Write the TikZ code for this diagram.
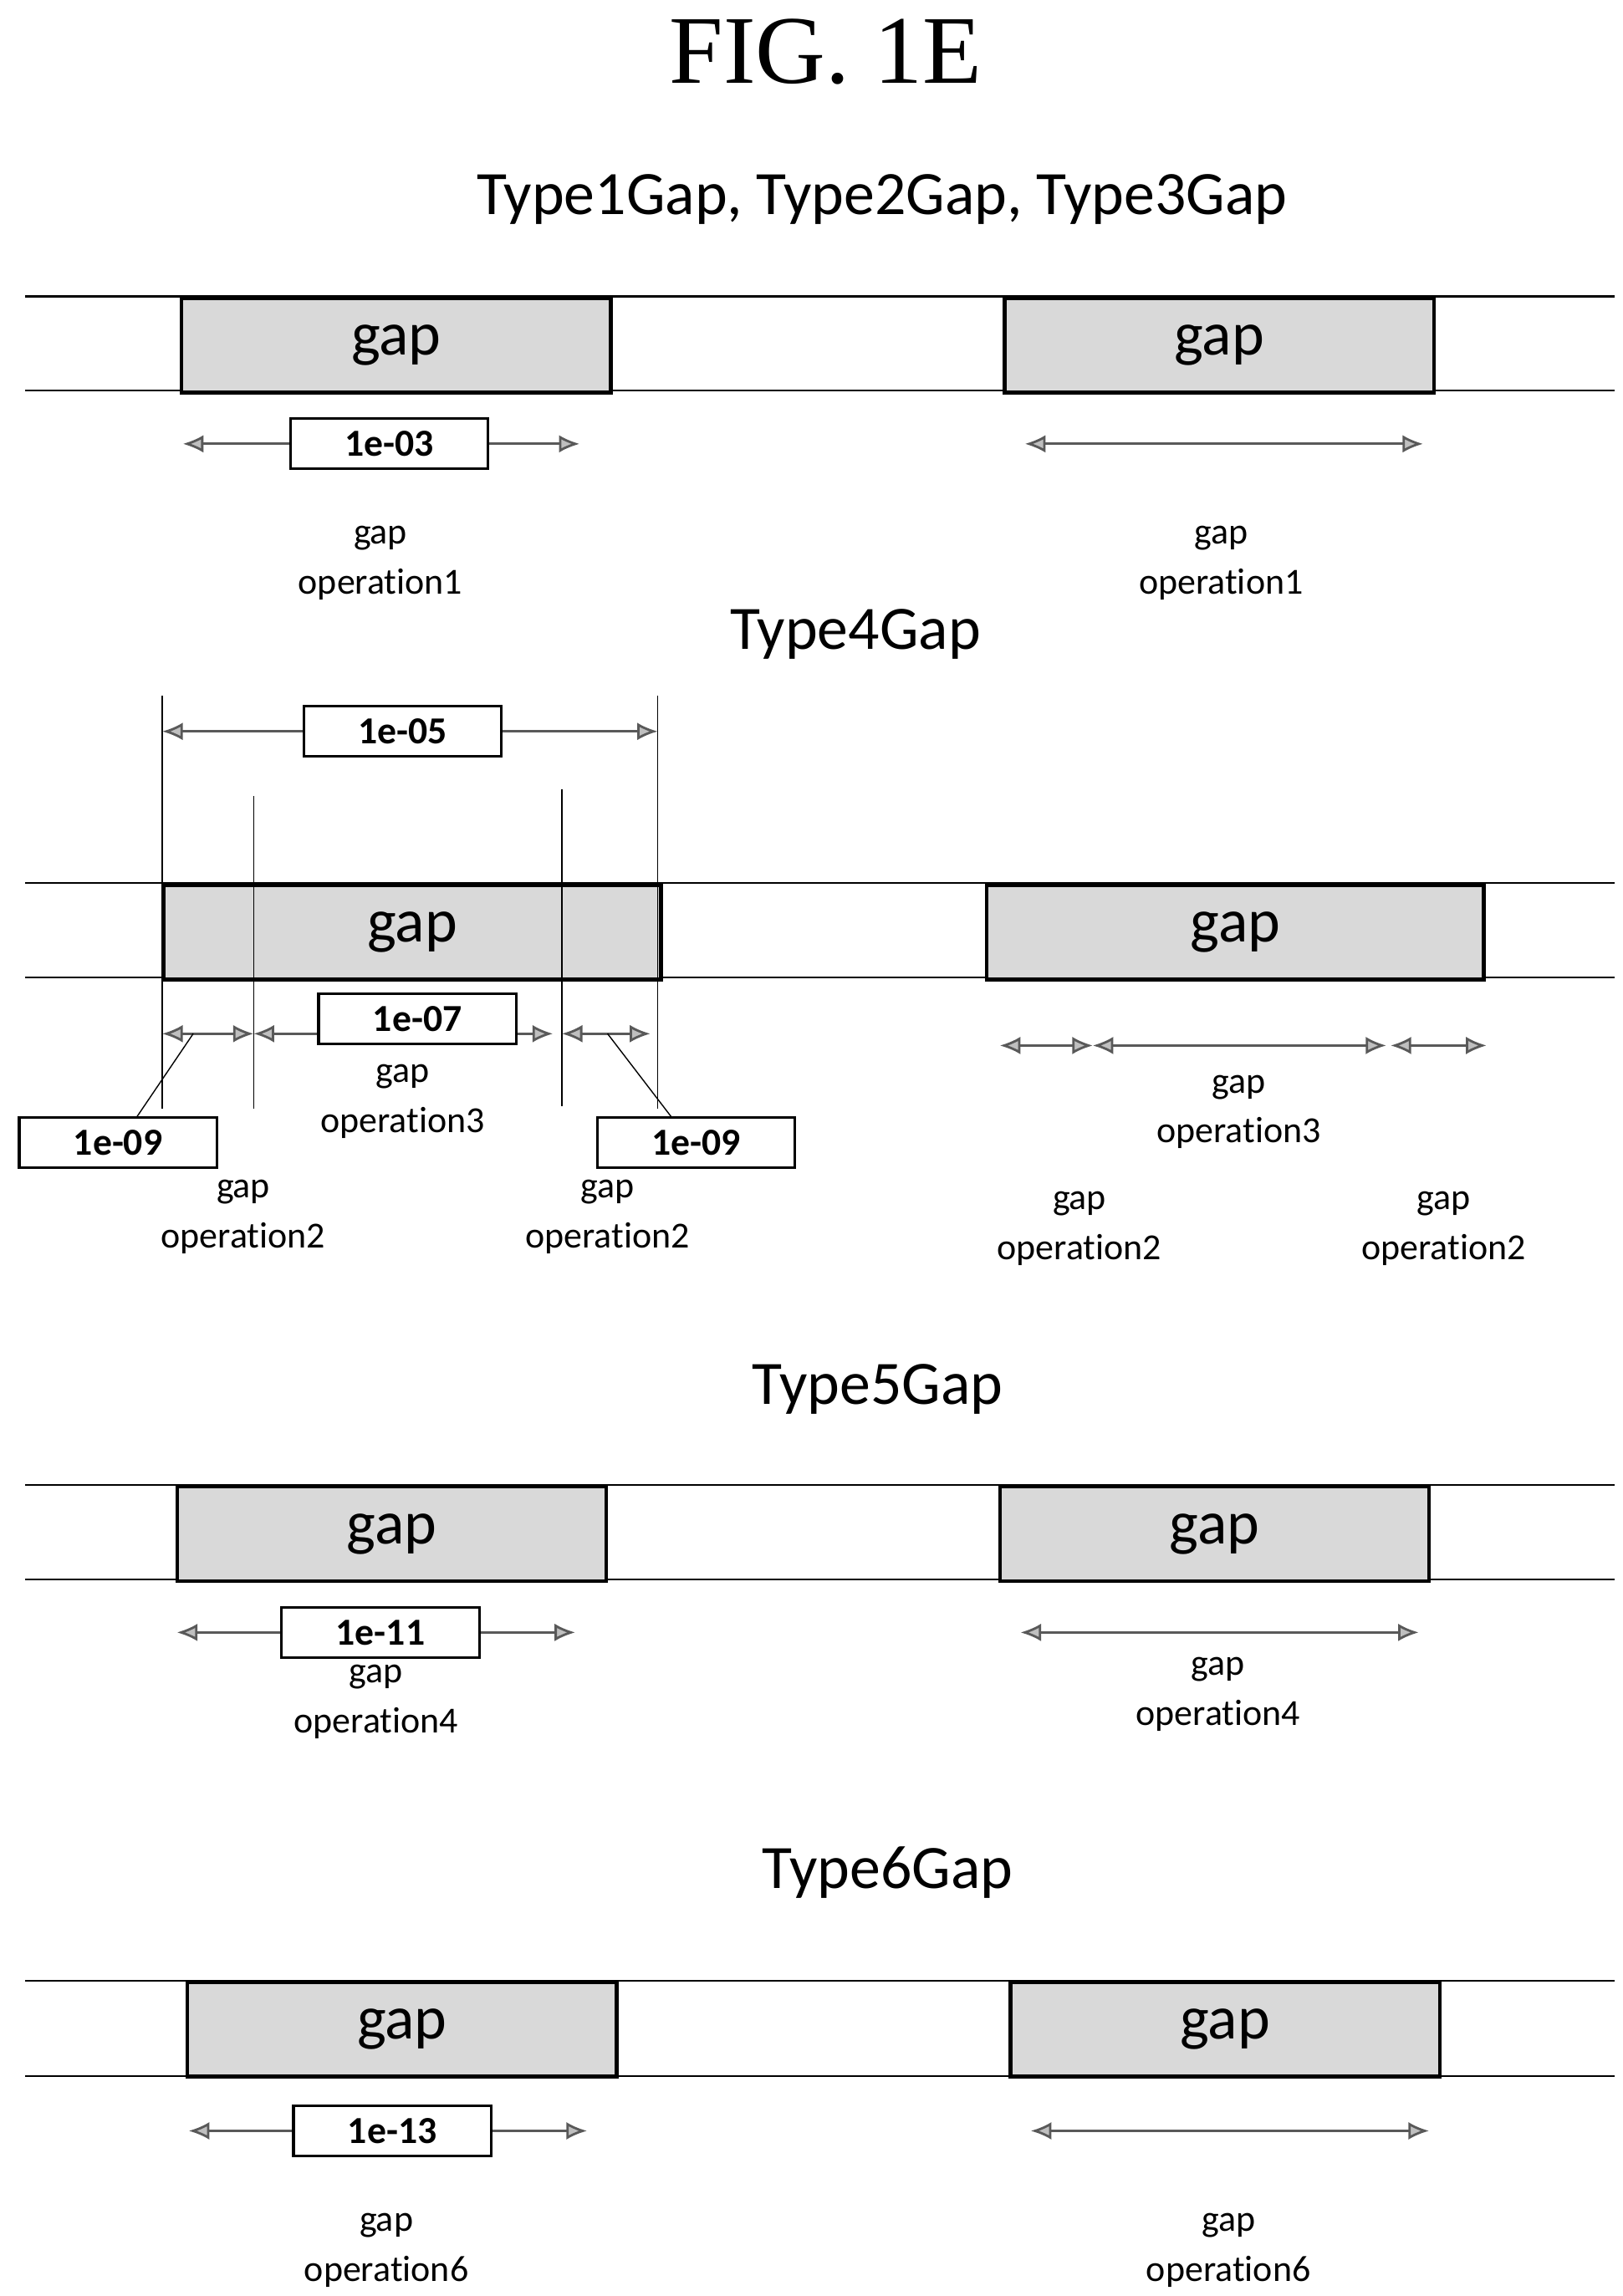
\documentclass[tikz,border=0pt]{standalone}
\usepackage{fontspec}
\setmainfont[RawFeature={-liga;-calt;-clig;-dlig}]{Carlito}
\newfontfamily\figfont{Liberation Serif}
\usetikzlibrary{arrows.meta}
\tikzset{
  gapbox/.style={draw,line width=1.2pt,fill=gray!30,minimum height=64\unitpx,anchor=north west,inner sep=0pt},
  tag/.style={draw,line width=0.9pt,fill=white,minimum width=134\unitpx,minimum height=34\unitpx,inner sep=0pt,font=\fontsize{13}{14}\selectfont\bfseries},
  span/.style={gray!70!black,line width=0.8pt,{Latex[length=7pt,width=6pt,fill=gray!50]}-{Latex[length=7pt,width=6pt,fill=gray!50]}},
  guide/.style={line width=0.4pt},
  op/.style={align=center,font=\fontsize{12.5}{17}\selectfont},
  head/.style={font=\fontsize{21}{22}\selectfont},
  gaptxt/.style={font=\fontsize{21}{22}\selectfont}
}
\newlength\unitpx
\setlength\unitpx{0.017636cm}
\newcommand\gaprow[6]{% top y, bottom y, left box x, right box x, width, name
  \draw[line width=0.6pt] (17,#1) -- (1095,#1) (17,#2) -- (1095,#2);
  \node[gapbox,minimum width=#5\unitpx,gaptxt] (#6l) at (#3,#1) {gap};
  \node[gapbox,minimum width=#5\unitpx,gaptxt] (#6r) at (#4,#1) {gap};
}
\begin{document}
\begin{tikzpicture}[x=\unitpx,y=-\unitpx]
\useasboundingbox (0,0) rectangle (1100,1557);

\node[font=\figfont\fontsize{33}{36}\selectfont] (fig) at (560,35) {FIG. 1E};

% Type1/2/3
\node[head] (h1) at (598,135) {Type1Gap, Type2Gap, Type3Gap};
\gaprow{201}{265}{122}{680}{291}{a}
\coordinate (a1) at (124,301); \coordinate (a2) at (393,301);
\draw[span] (a1) -- (a2);
\node[tag] (t1) at (264,301) {1e-03};
\coordinate (a3) at (695,301); \coordinate (a4) at (965,301);
\draw[span] (a3) -- (a4);
\node[op] (o1) at (258,382) {gap\\operation1};
\node[op] (o2) at (828,382) {gap\\operation1};

% Type4
\node[head] (h4) at (580,430) {Type4Gap};
\coordinate (v1t) at (110,472); \coordinate (v1b) at (110,752);
\coordinate (v2t) at (172,540); \coordinate (v2b) at (172,752);
\coordinate (v3t) at (381,535); \coordinate (v3b) at (381,750);
\coordinate (v4t) at (446,472); \coordinate (v4b) at (446,752);
\gaprow{599}{663}{110}{668}{337}{b}
\draw[guide] (v1t) -- (v1b) (v2t) -- (v2b) (v3t) -- (v3b) (v4t) -- (v4b);
\coordinate (b1) at (110,496); \coordinate (b2) at (446,496);
\draw[span] (b1) -- (b2);
\node[tag] (t5) at (273,496) {1e-05};
\coordinate (c1) at (110,701); \coordinate (c2) at (172,701);
\coordinate (c3) at (375,701); \coordinate (c4) at (381,701);
\coordinate (c5) at (441,701);
\draw[span] (c1) -- (c2);
\draw[span] (c2) -- (c3);
\draw[span] (c4) -- (c5);
\node[tag] (t7) at (283,691) {1e-07};
\node[tag] (t9a) at (80,775) {1e-09};
\node[tag] (t9b) at (472,775) {1e-09};
\coordinate (l1) at (131,701); \coordinate (l2) at (412,701);
\draw[guide] (l1) -- (t9a.north -| 93,0);
\draw[guide] (l2) -- (t9b.north -| 455,0);
\node[op] (o3) at (273,747) {gap\\operation3};
\node[op] (o4) at (165,825) {gap\\operation2};
\node[op] (o5) at (412,825) {gap\\operation2};
\coordinate (d1) at (678,709); \coordinate (d2) at (741,709);
\coordinate (d3) at (940,709); \coordinate (d4) at (943,709);
\coordinate (d5) at (1008,709);
\draw[span] (d1) -- (d2);
\draw[span] (d2) -- (d3);
\draw[span] (d4) -- (d5);
\node[op] (o6) at (840,754) {gap\\operation3};
\node[op] (o7) at (732,833) {gap\\operation2};
\node[op] (o8) at (979,833) {gap\\operation2};

% Type5
\node[head] (h5) at (595,942) {Type5Gap};
\gaprow{1007}{1071}{119}{677}{291}{e}
\coordinate (e1) at (120,1107); \coordinate (e2) at (390,1107);
\draw[span] (e1) -- (e2);
\node[tag] (t11) at (258,1107) {1e-11};
\coordinate (e3) at (692,1107); \coordinate (e4) at (962,1107);
\draw[span] (e3) -- (e4);
\node[op] (o9) at (255,1154) {gap\\operation4};
\node[op] (o10) at (826,1149) {gap\\operation4};

% Type6
\node[head] (h6) at (602,1270) {Type6Gap};
\gaprow{1343}{1408}{126}{684}{291}{f}
\coordinate (f1) at (128,1445); \coordinate (f2) at (398,1445);
\draw[span] (f1) -- (f2);
\node[tag] (t13) at (266,1445) {1e-13};
\coordinate (f3) at (699,1445); \coordinate (f4) at (969,1445);
\draw[span] (f3) -- (f4);
\node[op] (o11) at (262,1526) {gap\\operation6};
\node[op] (o12) at (833,1526) {gap\\operation6};
\end{tikzpicture}
\end{document}
